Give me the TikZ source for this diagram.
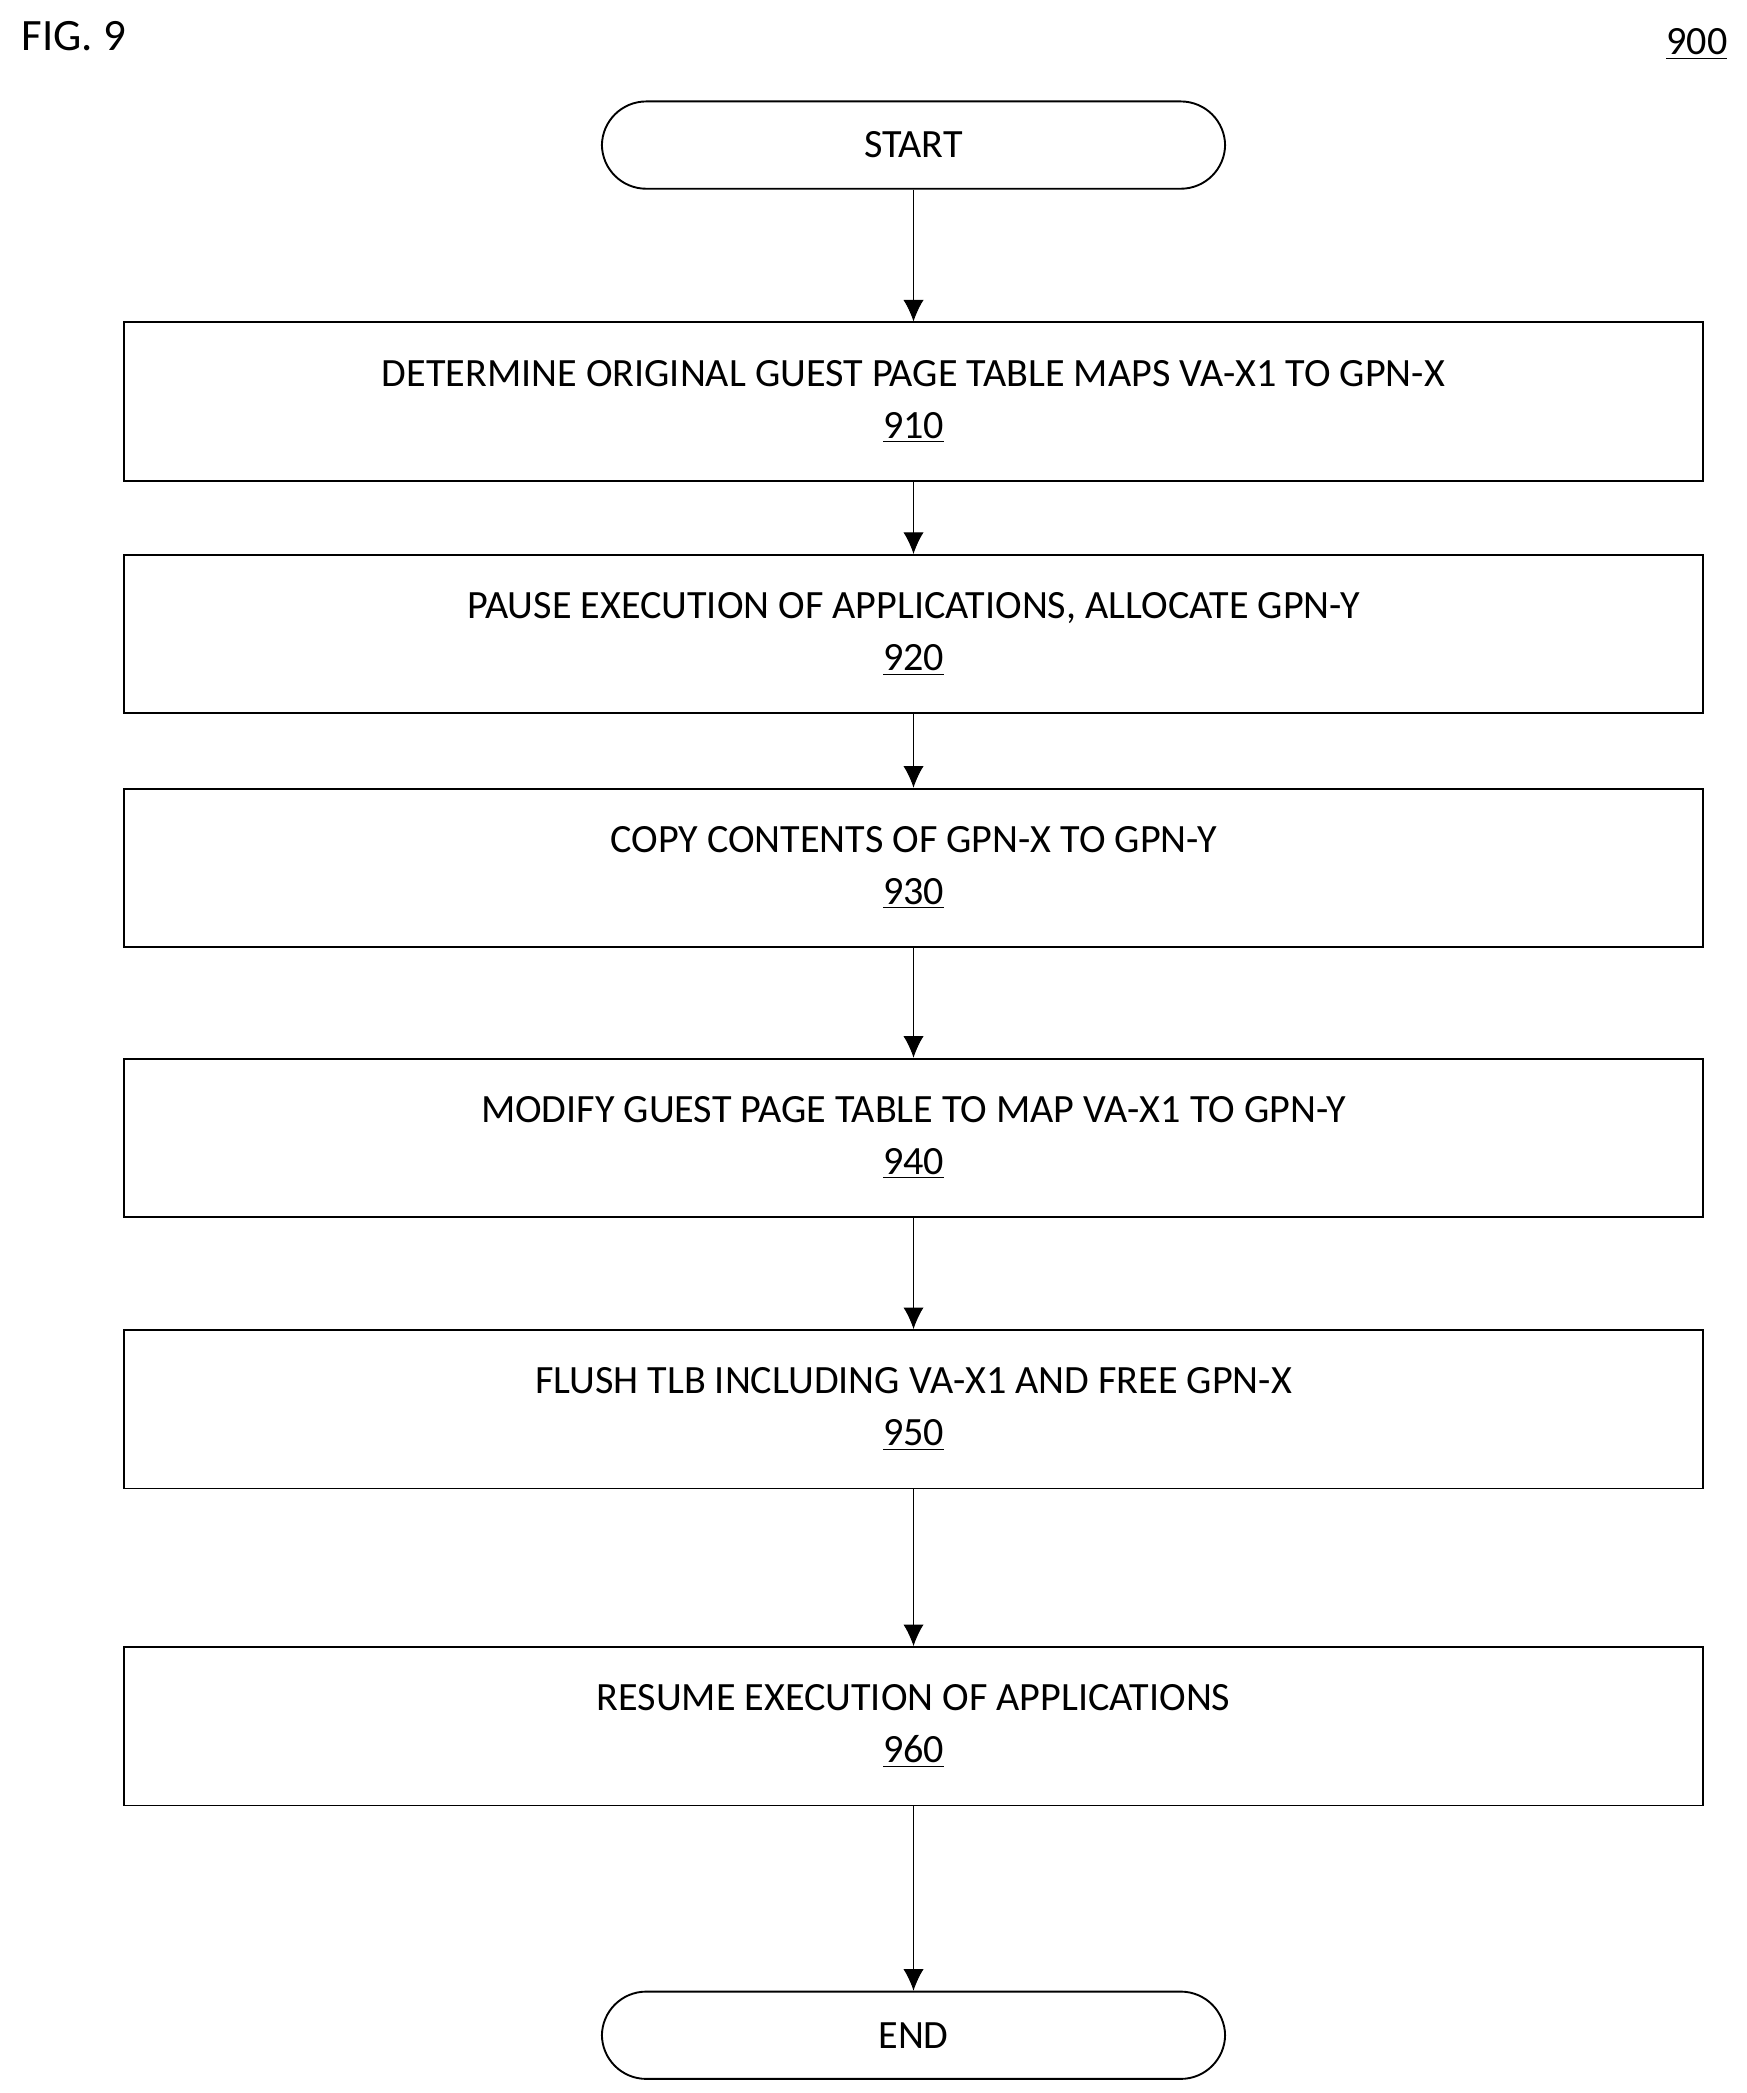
\documentclass[tikz,border=0pt]{standalone}
\usepackage{fontspec}
\setmainfont{Carlito}
\usetikzlibrary{positioning,arrows.meta}
\tikzset{
  procbox/.style={draw, thick, minimum width=23.5cm, minimum height=2.36cm, align=center, font=\fontsize{17}{22}\selectfont},
  term/.style={draw, thick, rounded corners=0.66cm, minimum width=9.28cm, minimum height=1.3cm, font=\fontsize{17}{20}\selectfont},
  flow/.style={-{Latex[length=0.32cm,width=0.3cm]}}
}
\begin{document}
\begin{tikzpicture}[x=0.02cm,y=-0.02cm]
  \useasboundingbox (0,0) rectangle (1300,1558);
  \node[anchor=west, font=\fontsize{19}{22}\selectfont] (fig) at (10,27) {FIG. 9};
  \node[anchor=east, font=\fontsize{17}{20}\selectfont] (num) at (1292,33) {\underline{900}};
  % terminals and steps
  \node[term] (start) at (680,108) {START};
  \node[procbox] (s910) at (680,299) {DETERMINE ORIGINAL GUEST PAGE TABLE MAPS VA-X1 TO GPN-X\\\underline{910}};
  \node[procbox] (s920) at (680,472) {PAUSE EXECUTION OF APPLICATIONS, ALLOCATE GPN-Y\\\underline{920}};
  \node[procbox] (s930) at (680,646) {COPY CONTENTS OF GPN-X TO GPN-Y\\\underline{930}};
  \node[procbox] (s940) at (680,847) {MODIFY GUEST PAGE TABLE TO MAP VA-X1 TO GPN-Y\\\underline{940}};
  \node[procbox] (s950) at (680,1049) {FLUSH TLB INCLUDING VA-X1 AND FREE GPN-X\\\underline{950}};
  \node[procbox] (s960) at (680,1285) {RESUME EXECUTION OF APPLICATIONS\\\underline{960}};
  \node[term] (end) at (680,1515) {END};
  % connectors
  \foreach \a/\b in {start/s910, s910/s920, s920/s930, s930/s940, s940/s950, s950/s960, s960/end}
    \draw[flow] (\a) -- (\b);
\end{tikzpicture}
\end{document}
